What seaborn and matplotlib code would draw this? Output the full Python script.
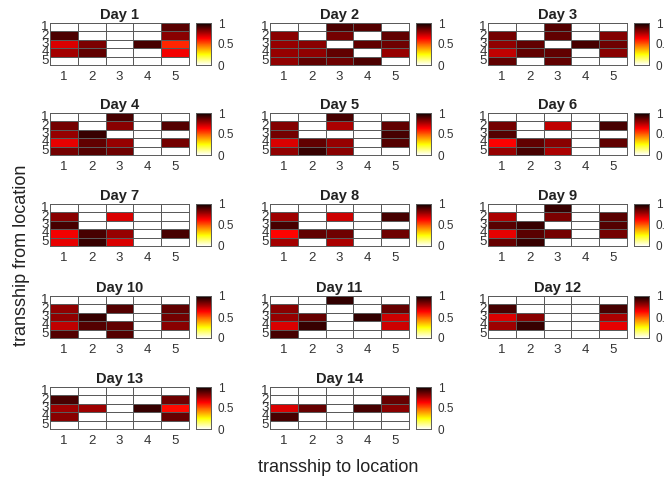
import numpy as np
import matplotlib
matplotlib.use("Agg")
import matplotlib.pyplot as plt
import seaborn as sns

sns.set_style("white")
plt.rcParams['font.family'] = ['Arial', 'Liberation Sans', 'DejaVu Sans']

# transship share, rows = from location 1..5, cols = to location 1..5
day1 = [[0, 0, 0, 0, 0.88],
        [0.9, 0, 0, 0, 0.81],
        [0.69, 0.83, 0, 0.91, 0.58],
        [0.77, 0.87, 0, 0, 0.65],
        [0, 0, 0, 0, 0]]
day2 = [[0, 0, 0.9, 0.89, 0],
        [0.81, 0, 0.84, 0, 0.87],
        [0.79, 0.81, 0, 0.87, 0.85],
        [0.79, 0.8, 0.87, 0, 0.79],
        [0.8, 0.87, 0.85, 0.9, 0]]
day3 = [[0, 0, 0.89, 0, 0],
        [0.84, 0, 0.87, 0, 0.82],
        [0.8, 0.87, 0, 0.91, 0.85],
        [0.73, 0.87, 0.87, 0, 0.81],
        [0.87, 0, 0.87, 0, 0]]
day4 = [[0, 0, 0.91, 0, 0],
        [0.84, 0, 0.81, 0, 0.89],
        [0.79, 0.93, 0, 0, 0],
        [0.67, 0.87, 0.79, 0, 0.84],
        [0.84, 0.89, 0.85, 0, 0]]
day5 = [[0, 0, 0.91, 0, 0],
        [0.82, 0, 0.76, 0, 0.87],
        [0.84, 0, 0, 0, 0.91],
        [0.69, 0.87, 0.79, 0, 0.89],
        [0.8, 0.93, 0.81, 0, 0]]
day6 = [[0, 0, 0, 0, 0],
        [0.84, 0, 0.73, 0, 0.91],
        [0.89, 0, 0, 0, 0],
        [0.64, 0.87, 0.81, 0, 0.87],
        [0.79, 0.91, 0.76, 0, 0]]
day7 = [[0, 0, 0, 0, 0],
        [0.81, 0, 0.69, 0, 0],
        [0.91, 0, 0, 0, 0],
        [0.65, 0.91, 0.79, 0, 0.91],
        [0.67, 0.93, 0.69, 0, 0]]
day8 = [[0, 0, 0, 0, 0],
        [0.78, 0, 0.71, 0, 0.91],
        [0.91, 0, 0, 0, 0],
        [0.63, 0.87, 0.85, 0, 0.85],
        [0.77, 0, 0.76, 0, 0]]
day9 = [[0, 0, 0.93, 0, 0],
        [0.76, 0, 0.83, 0, 0.88],
        [0.88, 0.93, 0, 0, 0.89],
        [0.67, 0.88, 0.84, 0, 0.84],
        [0.86, 0.93, 0, 0, 0]]
day10 = [[0, 0, 0, 0, 0],
         [0.8, 0, 0.89, 0, 0.87],
         [0.8, 0.93, 0, 0, 0.84],
         [0.73, 0.89, 0.87, 0, 0.81],
         [0.89, 0, 0.89, 0, 0]]
day11 = [[0, 0, 0.94, 0, 0],
         [0.81, 0, 0, 0, 0.86],
         [0.79, 0.86, 0, 0.94, 0.71],
         [0.69, 0.93, 0, 0, 0.71],
         [0.91, 0, 0, 0, 0]]
day12 = [[0, 0, 0, 0, 0],
         [0.91, 0, 0, 0, 0.91],
         [0.69, 0.81, 0, 0, 0.76],
         [0.78, 0.93, 0, 0, 0.67],
         [0, 0, 0, 0, 0]]
day13 = [[0, 0, 0, 0, 0],
         [0.91, 0, 0, 0, 0.85],
         [0.78, 0.78, 0, 0.93, 0.62],
         [0.81, 0, 0, 0, 0.86],
         [0, 0, 0, 0, 0]]
day14 = [[0, 0, 0, 0, 0],
         [0, 0, 0, 0, 0.86],
         [0.69, 0.86, 0, 0.91, 0.81],
         [0.91, 0, 0, 0, 0],
         [0, 0, 0, 0, 0]]

days = [day1, day2, day3, day4, day5, day6, day7, day8, day9,
        day10, day11, day12, day13, day14]
locations = ["1", "2", "3", "4", "5"]

W, H = 665, 482
fig = plt.figure(figsize=(W / 100, H / 100), dpi=100)

# pixel positions of the panels (left edge of heatmap, top edge)
col_x = [50, 270, 488]
row_y = [23, 113, 204, 296, 387]
hm_w, hm_h = 139, 42
cb_off, cb_w = 146, 15


def px_axes(x, y, w, h):
    return fig.add_axes([x / W, 1 - (y + h) / H, w / W, h / H])


for i, d in enumerate(days):
    r, c = divmod(i, 3)
    x, y = col_x[c], row_y[r]
    ax = px_axes(x, y, hm_w, hm_h)
    cax = px_axes(x + cb_off, y, cb_w, hm_h)
    sns.heatmap(np.array(d), ax=ax, cbar_ax=cax, cmap="hot_r", vmin=0, vmax=1,
                linewidths=0.5, linecolor="#5a5a5a",
                xticklabels=locations, yticklabels=locations)
    for s in ax.spines.values():
        s.set_visible(True)
        s.set_color("#5a5a5a")
        s.set_linewidth(0.7)
    ax.set_title(f"Day {i + 1}", fontsize=10.5, fontweight="bold", pad=3,
                 color="#222222")
    ax.tick_params(axis="both", length=0, labelsize=9.5, colors="#333333", pad=4)
    ax.tick_params(axis="y", pad=1)
    ax.set_yticklabels(locations, rotation=0, va="center")
    cax.set_yticks([0, 0.5, 1])
    cax.set_yticklabels(["0", "0.5", "1"])
    cax.tick_params(length=0, labelsize=8.5, colors="#333333", pad=5)
    for s in cax.spines.values():
        s.set_visible(True)
        s.set_color("#5a5a5a")
        s.set_linewidth(0.6)

fig.text(22 / W, 1 - 255 / H, "transship from location", rotation=90,
         ha="center", va="center", fontsize=13, color="#222222")
fig.text(338 / W, 1 - 468 / H, "transship to location",
         ha="center", va="center", fontsize=13, color="#222222")

fig.savefig("out.png", dpi=100, facecolor="white")
